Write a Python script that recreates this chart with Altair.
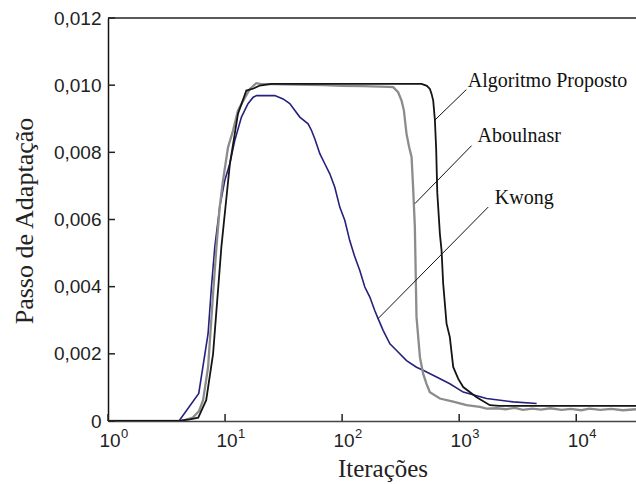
import altair as alt
import pandas as pd

# ---- series: Algoritmo Proposto (black)
prop_x = [1, 4.0, 5.0, 5.9, 6.9, 7.9, 9.3, 11.0, 12.9, 15.2, 17.5, 19.8, 25, 60, 150, 300, 477,
          530, 562, 581, 600, 620, 636, 650, 684, 707, 730, 780, 832, 889, 980, 1082, 1409,
          1830, 2200, 32400]
prop_y = [0, 0, 0.00005, 0.0001, 0.00062, 0.002, 0.00518, 0.00766, 0.00915, 0.00984, 0.0099,
          0.00999, 0.01004, 0.01004, 0.01004, 0.01004, 0.01004, 0.00998, 0.00989, 0.00974,
          0.00954, 0.00897, 0.0081, 0.0068, 0.00558, 0.00508, 0.00409, 0.0029, 0.0025, 0.00161,
          0.00126, 0.00101, 0.00071, 0.00047, 0.00045, 0.00045]

# ---- series: Aboulnasr (gray)
abou_x = [1, 4.2, 5.3, 6.0, 6.49, 7.16, 7.9, 8.44, 9.0, 9.6, 10.6, 11.7, 12.9, 14.3, 16.3, 18.5,
          20, 40, 70, 100, 150, 250, 273, 301, 322, 337, 355, 374, 392, 404, 418, 432, 462, 492,
          527, 562, 684, 889, 1156, 1503, 1714, 2100, 2500, 3000, 3500, 4200, 5000, 6000, 7500,
          9000, 11000, 13000, 16000, 20000, 25000, 32400]
abou_y = [0, 0, 0.0001, 0.0003, 0.00062, 0.0016, 0.00379, 0.00518, 0.00637, 0.00716, 0.00815,
          0.00865, 0.00925, 0.00954, 0.00989, 0.01006, 0.01004, 0.01002, 0.01, 0.00998, 0.00997,
          0.00995, 0.00994, 0.00979, 0.00954, 0.00925, 0.00855, 0.00815, 0.00786, 0.00696,
          0.0058, 0.0031, 0.0019, 0.00141, 0.0011, 0.00086, 0.00067, 0.00058, 0.00047, 0.00042,
          0.00037, 0.00038, 0.00035, 0.00039, 0.00033, 0.00037, 0.00034, 0.00038, 0.00033,
          0.00036, 0.00032, 0.00037, 0.00033, 0.00036, 0.00032, 0.00035]

# ---- series: Kwong (navy)
kw_x = [1, 4.04, 5.96, 7.16, 7.65, 8.17, 9.0, 9.94, 10.97, 12.1, 13.8, 15.7, 17.4, 18.6, 26.6,
        31.3, 35.7, 43.5, 51.2, 54.8, 58.5, 64.5, 71.1, 78.5, 86.6, 95.5, 105.5, 116, 128.5,
        141.6, 156.3, 172.5, 190, 203, 224, 256, 292, 355, 432, 492, 641, 832, 1082, 1714,
        2896, 4590]
kw_y = [0, 0, 0.00082, 0.0026, 0.00399, 0.00518, 0.00637, 0.00716, 0.00766, 0.00835, 0.00905,
        0.00945, 0.00964, 0.00969, 0.00969, 0.00959, 0.00945, 0.00905, 0.00885, 0.00865,
        0.0084, 0.00796, 0.00766, 0.00736, 0.00696, 0.00637, 0.00597, 0.00538, 0.00488,
        0.00448, 0.00399, 0.00369, 0.00329, 0.00305, 0.0027, 0.0023, 0.0021, 0.0018, 0.0016,
        0.00151, 0.00131, 0.00111, 0.00086, 0.00067, 0.00057, 0.00052]

# ---- axes
x_ticks = [1, 10, 100, 1000, 10000]
x_tick_base = ["10", "10", "10", "10", "10"]
x_tick_exp = ["0", "1", "2", "3", "4"]
y_ticks = [0, 0.002, 0.004, 0.006, 0.008, 0.010, 0.012]
x_title = "Iterações"
y_title = "Passo de Adaptação"

# ---- annotations
ann_labels = ["Algoritmo Proposto", "Aboulnasr", "Kwong"]
ann_text_x = [1186, 1436, 2018]
ann_text_y = [0.00995, 0.0083, 0.00647]
lead_x1 = [620, 418, 203]
lead_y1 = [0.00896, 0.00647, 0.00305]
lead_x2 = [1152, 1277, 1770]
lead_y2 = [0.00987, 0.0082, 0.00637]

W, H = 528, 403

xscale = alt.Scale(type="log", domain=[1, 32400])
yscale = alt.Scale(domain=[0, 0.012], nice=False)

df_prop = pd.DataFrame({"x": prop_x, "y": prop_y})
df_abou = pd.DataFrame({"x": abou_x, "y": abou_y})
df_kw = pd.DataFrame({"x": kw_x, "y": kw_y})
df_xt = pd.DataFrame({"x": x_ticks, "b": x_tick_base, "e": x_tick_exp})
df_yt = pd.DataFrame({"y": y_ticks})
df_titles = pd.DataFrame({"xt": [x_title], "yt": [y_title]})
df_ann = pd.DataFrame({"label": ann_labels, "x": ann_text_x, "y": ann_text_y,
                       "x1": lead_x1, "y1": lead_y1, "x2": lead_x2, "y2": lead_y2})

x_axis = alt.Axis(values=x_ticks, labels=False, ticks=False, grid=False,
                  domainColor="#444", domainWidth=1.5, title="")
y_axis = alt.Axis(values=y_ticks,
                  labelExpr="datum.value == 0 ? '0' : replace(format(datum.value, '.3f'), '.', ',')",
                  labelFont="Liberation Sans", labelFontSize=19, labelColor="#222",
                  labelPadding=7, ticks=False, tickSize=0, grid=False, labelOverlap=False,
                  domainColor="#111", domainWidth=1.5, title="")

X = alt.X("x:Q", scale=xscale, axis=x_axis)
Y = alt.Y("y:Q", scale=yscale, axis=y_axis)

def line(df, color, width):
    return alt.Chart(df).mark_line(color=color, strokeWidth=width, clip=True).encode(x=X, y=Y)

kw_line = line(df_kw, "#25217c", 1.6)
abou_line = line(df_abou, "#8c8c8c", 2.3)
prop_line = line(df_prop, "#151515", 1.8)

top_border = alt.Chart(df_titles).mark_rule(color="#222", strokeWidth=1.5).encode(
    x=alt.value(0), x2=alt.value(W), y=alt.value(0))

xtick_marks = alt.Chart(df_xt).mark_rule(color="#222", strokeWidth=1.5).encode(
    x=X, y=alt.value(H), y2=alt.value(H - 7))
ytick_marks = alt.Chart(df_yt).mark_rule(color="#222", strokeWidth=1.5).encode(
    y=Y, x=alt.value(0), x2=alt.value(7))

xtick_base = alt.Chart(df_xt).mark_text(font="Liberation Sans", fontSize=19, color="#222",
                                        align="center", baseline="alphabetic", dx=2).encode(
    x=X, y=alt.value(428.5), text="b:N")
xtick_exp = alt.Chart(df_xt).mark_text(font="Liberation Sans", fontSize=13, color="#222",
                                       align="left", baseline="alphabetic", dx=13).encode(
    x=X, y=alt.value(419.5), text="e:N")

x_title_mark = alt.Chart(df_titles).mark_text(font="Liberation Serif", fontSize=25, color="#222",
                                              align="center", baseline="alphabetic").encode(
    x=alt.value(275), y=alt.value(H + 56), text="xt:N")
y_title_mark = alt.Chart(df_titles).mark_text(font="Liberation Serif", fontSize=26, color="#222",
                                              align="center", baseline="alphabetic",
                                              angle=270).encode(
    x=alt.value(-75), y=alt.value(203), text="yt:N")

leaders = alt.Chart(df_ann).mark_rule(color="#111", strokeWidth=1).encode(
    x=alt.X("x1:Q", scale=xscale, axis=x_axis), y=alt.Y("y1:Q", scale=yscale, axis=y_axis),
    x2="x2:Q", y2="y2:Q")
ann_text = alt.Chart(df_ann).mark_text(font="Liberation Serif", fontSize=20, color="#111",
                                       align="left", baseline="alphabetic").encode(
    x=X, y=Y, text="label:N")

chart = alt.layer(
    kw_line, abou_line, prop_line, top_border, xtick_marks, ytick_marks,
    xtick_base, xtick_exp, x_title_mark, y_title_mark, leaders, ann_text
).properties(
    width=W, height=H, autosize="none",
    padding={"left": 108, "top": 18, "right": 0, "bottom": 63},
    background="white",
).configure_view(strokeWidth=0)

chart.save("out.html", embed_options={"renderer": "svg", "actions": False})
